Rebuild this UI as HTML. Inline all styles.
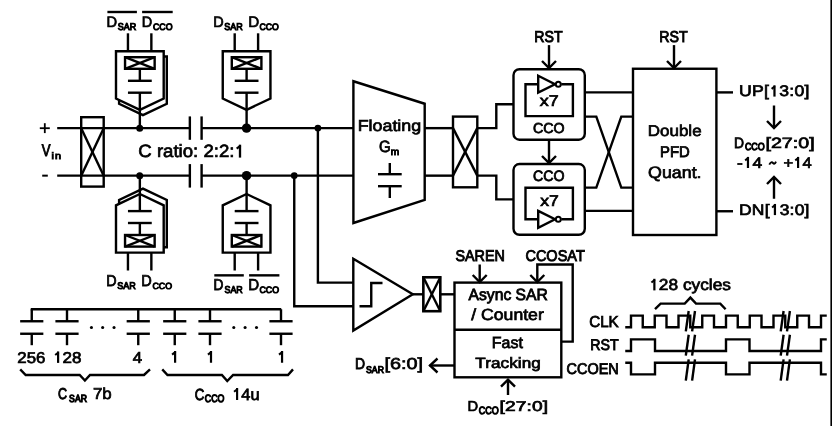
<!DOCTYPE html>
<html><head><meta charset="utf-8"><style>
html,body{margin:0;padding:0;background:#fff;}
svg{display:block;}
text{text-rendering:geometricPrecision;font-family:"Liberation Sans",sans-serif;fill:#000;stroke:#000;stroke-width:0.7px;vector-effect:non-scaling-stroke;}
svg{will-change:transform;}
</style></head><body>
<svg width="832" height="426" viewBox="0 0 832 426" stroke="#000" stroke-linecap="butt" stroke-linejoin="miter">
<rect x="0" y="0" width="832" height="426" fill="#fff" stroke="none"/>
<rect x="830.4" y="0" width="1.6" height="426" fill="#000" stroke="none"/>
<path d="M39.80,128.20 L49.80,128.20" stroke-width="1.8" fill="none"/>
<path d="M44.80,123.20 L44.80,133.10" stroke-width="1.8" fill="none"/>
<path d="M42.20,175.65 L47.80,175.65" stroke-width="2.0" fill="none"/>
<text transform="translate(41.84,156.19) scale(0.7886,1)" font-size="16.57" font-weight="normal" letter-spacing="0.000"  style="stroke-width:1.01px">V</text>
<text transform="translate(51.41,159.35) scale(1.1500,1)" font-size="9.52" font-weight="normal" letter-spacing="0.992"  style="stroke-width:0.9px">in</text>
<path d="M57.20,128.15 L189.85,128.15" stroke-width="2.4" fill="none"/>
<path d="M201.60,128.15 L353.40,128.15" stroke-width="2.4" fill="none"/>
<path d="M57.20,175.65 L189.85,175.65" stroke-width="2.4" fill="none"/>
<path d="M201.60,175.65 L353.40,175.65" stroke-width="2.4" fill="none"/>
<rect x="81.20" y="117.20" width="22.50" height="69.40" rx="0" stroke-width="2.4" fill="none"/>
<path d="M81.20,128.15 L103.70,175.65" stroke-width="2.4" fill="none"/>
<path d="M103.70,128.15 L81.20,175.65" stroke-width="2.4" fill="none"/>
<path d="M189.85,116.40 L189.85,139.80" stroke-width="2.4" fill="none"/>
<path d="M201.60,116.40 L201.60,139.80" stroke-width="2.4" fill="none"/>
<path d="M189.85,164.10 L189.85,187.60" stroke-width="2.4" fill="none"/>
<path d="M201.60,164.10 L201.60,187.60" stroke-width="2.4" fill="none"/>
<path d="M240.00,144.68 L240.00,157.60" stroke-width="2.3279431363838294" fill="none"/>
<path d="M240.54,145.71 L236.70,148.72" stroke-width="2.211111111111112" fill="none"/>
<text transform="translate(138.32,157.25) scale(1.0465,1)" font-size="17.78" font-weight="normal" letter-spacing="0.000" >C ratio: 2:2: </text>
<path d="M127.95,33.30 L127.95,51.20" stroke-width="2.4" fill="none"/>
<path d="M151.35,33.30 L151.35,51.20" stroke-width="2.4" fill="none"/>
<path d="M119.10,56.50 L166.80,56.50 L166.80,103.80 L142.95,115.10 L119.10,103.80 Z" stroke-width="2.4" fill="#fff"/>
<path d="M116.00,51.20 L163.70,51.20 L163.70,98.50 L139.85,109.80 L116.00,98.50 Z" stroke-width="2.4" fill="#fff"/>
<rect x="125.05" y="57.20" width="29.60" height="11.60" rx="0" stroke-width="2.4" fill="none"/>
<path d="M125.05,57.20 L154.65,68.80" stroke-width="2.4" fill="none"/>
<path d="M154.65,57.20 L125.05,68.80" stroke-width="2.4" fill="none"/>
<path d="M139.85,68.80 L139.85,80.80" stroke-width="2.4" fill="none"/>
<path d="M127.95,80.80 L151.75,80.80" stroke-width="2.4" fill="none"/>
<path d="M127.95,92.70 L151.75,92.70" stroke-width="2.4" fill="none"/>
<path d="M139.85,92.70 L139.85,128.15" stroke-width="2.4" fill="none"/>
<path d="M234.70,33.30 L234.70,51.20" stroke-width="2.4" fill="none"/>
<path d="M258.10,33.30 L258.10,51.20" stroke-width="2.4" fill="none"/>
<path d="M222.75,51.20 L270.45,51.20 L270.45,98.50 L246.60,109.80 L222.75,98.50 Z" stroke-width="2.4" fill="#fff"/>
<rect x="231.80" y="57.20" width="29.60" height="11.60" rx="0" stroke-width="2.4" fill="none"/>
<path d="M231.80,57.20 L261.40,68.80" stroke-width="2.4" fill="none"/>
<path d="M261.40,57.20 L231.80,68.80" stroke-width="2.4" fill="none"/>
<path d="M246.60,68.80 L246.60,80.80" stroke-width="2.4" fill="none"/>
<path d="M234.70,80.80 L258.50,80.80" stroke-width="2.4" fill="none"/>
<path d="M234.70,92.70 L258.50,92.70" stroke-width="2.4" fill="none"/>
<path d="M246.60,92.70 L246.60,128.15" stroke-width="2.4" fill="none"/>
<path d="M127.95,270.50 L127.95,252.60" stroke-width="2.4" fill="none"/>
<path d="M151.35,270.50 L151.35,252.60" stroke-width="2.4" fill="none"/>
<path d="M119.10,247.30 L166.80,247.30 L166.80,200.00 L142.95,188.70 L119.10,200.00 Z" stroke-width="2.4" fill="#fff"/>
<path d="M116.00,252.60 L163.70,252.60 L163.70,205.30 L139.85,194.00 L116.00,205.30 Z" stroke-width="2.4" fill="#fff"/>
<rect x="125.05" y="235.00" width="29.60" height="11.60" rx="0" stroke-width="2.4" fill="none"/>
<path d="M125.05,246.60 L154.65,235.00" stroke-width="2.4" fill="none"/>
<path d="M154.65,246.60 L125.05,235.00" stroke-width="2.4" fill="none"/>
<path d="M139.85,235.00 L139.85,223.00" stroke-width="2.4" fill="none"/>
<path d="M127.95,223.00 L151.75,223.00" stroke-width="2.4" fill="none"/>
<path d="M127.95,211.10 L151.75,211.10" stroke-width="2.4" fill="none"/>
<path d="M139.85,211.10 L139.85,175.65" stroke-width="2.4" fill="none"/>
<path d="M234.70,270.50 L234.70,252.60" stroke-width="2.4" fill="none"/>
<path d="M258.10,270.50 L258.10,252.60" stroke-width="2.4" fill="none"/>
<path d="M222.75,252.60 L270.45,252.60 L270.45,205.30 L246.60,194.00 L222.75,205.30 Z" stroke-width="2.4" fill="#fff"/>
<rect x="231.80" y="235.00" width="29.60" height="11.60" rx="0" stroke-width="2.4" fill="none"/>
<path d="M231.80,246.60 L261.40,235.00" stroke-width="2.4" fill="none"/>
<path d="M261.40,246.60 L231.80,235.00" stroke-width="2.4" fill="none"/>
<path d="M246.60,235.00 L246.60,223.00" stroke-width="2.4" fill="none"/>
<path d="M234.70,223.00 L258.50,223.00" stroke-width="2.4" fill="none"/>
<path d="M234.70,211.10 L258.50,211.10" stroke-width="2.4" fill="none"/>
<path d="M246.60,211.10 L246.60,175.65" stroke-width="2.4" fill="none"/>
<path d="M107.40,12.00 L136.90,12.00" stroke-width="2.4" fill="none"/>
<path d="M142.10,12.00 L172.70,12.00" stroke-width="2.4" fill="none"/>
<text transform="translate(106.56,26.54) scale(0.9701,1)" font-size="15.08" font-weight="normal" letter-spacing="0.000"  style="stroke-width:0.73px">D</text>
<text transform="translate(117.84,30.36) scale(0.9038,1)" font-size="9.92" font-weight="normal" letter-spacing="0.000"  style="stroke-width:1.08px">SAR</text>
<text transform="translate(141.78,26.53) scale(0.9587,1)" font-size="15.07" font-weight="normal" letter-spacing="0.000"  style="stroke-width:0.74px">D</text>
<text transform="translate(152.88,30.38) scale(0.9387,1)" font-size="9.41" font-weight="normal" letter-spacing="0.000"  style="stroke-width:1.04px">CCO</text>
<text transform="translate(213.18,26.53) scale(0.9587,1)" font-size="15.07" font-weight="normal" letter-spacing="0.000"  style="stroke-width:0.74px">D</text>
<text transform="translate(224.34,30.36) scale(0.9038,1)" font-size="9.92" font-weight="normal" letter-spacing="0.000"  style="stroke-width:1.08px">SAR</text>
<text transform="translate(248.20,26.55) scale(1.0041,1)" font-size="15.13" font-weight="normal" letter-spacing="0.000" >D</text>
<text transform="translate(259.49,30.38) scale(0.9296,1)" font-size="9.39" font-weight="normal" letter-spacing="0.000"  style="stroke-width:1.05px">CCO</text>
<text transform="translate(106.22,286.10) scale(0.9130,1)" font-size="15.69" font-weight="normal" letter-spacing="0.000"  style="stroke-width:0.81px">D</text>
<text transform="translate(117.22,289.28) scale(0.9334,1)" font-size="9.68" font-weight="normal" letter-spacing="0.000"  style="stroke-width:1.05px">SAR</text>
<text transform="translate(141.30,286.11) scale(0.9242,1)" font-size="15.72" font-weight="normal" letter-spacing="0.000"  style="stroke-width:0.79px">D</text>
<text transform="translate(152.46,289.30) scale(0.9795,1)" font-size="9.03" font-weight="normal" letter-spacing="0.000"  style="stroke-width:1.0px">CCO</text>
<path d="M214.30,275.35 L243.80,275.35" stroke-width="2.4" fill="none"/>
<path d="M249.10,275.35 L279.40,275.35" stroke-width="2.4" fill="none"/>
<text transform="translate(213.60,290.17) scale(0.8713,1)" font-size="15.77" font-weight="normal" letter-spacing="0.000"  style="stroke-width:0.86px">D</text>
<text transform="translate(224.54,293.46) scale(0.8936,1)" font-size="9.92" font-weight="normal" letter-spacing="0.000"  style="stroke-width:1.08px">SAR</text>
<text transform="translate(248.24,290.22) scale(0.9482,1)" font-size="15.91" font-weight="normal" letter-spacing="0.000"  style="stroke-width:0.76px">D</text>
<text transform="translate(259.47,293.49) scale(0.9522,1)" font-size="9.28" font-weight="normal" letter-spacing="0.000"  style="stroke-width:1.03px">CCO</text>
<circle cx="139.70" cy="128.15" r="3.50" fill="#000" stroke="none"/>
<circle cx="139.70" cy="175.65" r="3.50" fill="#000" stroke="none"/>
<circle cx="246.55" cy="128.15" r="4.70" fill="#000" stroke="none"/>
<circle cx="246.55" cy="175.65" r="4.70" fill="#000" stroke="none"/>
<circle cx="317.90" cy="128.15" r="3.30" fill="#000" stroke="none"/>
<circle cx="294.25" cy="175.65" r="3.30" fill="#000" stroke="none"/>
<path d="M353.40,81.25 L424.70,103.75 L424.70,200.00 L353.40,223.00 Z" stroke-width="2.4" fill="none"/>
<text transform="translate(357.68,131.35) scale(1.1251,1)" font-size="15.86" font-weight="normal" letter-spacing="0.000" >Floating</text>
<text transform="translate(378.95,152.19) scale(0.9188,1)" font-size="16.33" font-weight="normal" letter-spacing="0.000"  style="stroke-width:0.81px">G</text>
<text transform="translate(390.67,155.44) scale(1.0291,1)" font-size="9.84" font-weight="normal" letter-spacing="0.000"  style="stroke-width:0.91px">m</text>
<path d="M389.80,163.00 L389.80,174.20" stroke-width="2.4" fill="none"/>
<path d="M378.00,174.20 L401.70,174.20" stroke-width="2.4" fill="none"/>
<path d="M378.00,186.20 L401.70,186.20" stroke-width="2.4" fill="none"/>
<path d="M389.80,186.20 L389.80,198.00" stroke-width="2.4" fill="none"/>
<path d="M317.90,128.15 L317.90,282.60 L353.30,282.60" stroke-width="2.4" fill="none"/>
<path d="M294.25,175.65 L294.25,306.30 L353.30,306.30" stroke-width="2.4" fill="none"/>
<path d="M424.70,128.15 L453.00,128.15" stroke-width="2.4" fill="none"/>
<path d="M424.70,175.65 L453.00,175.65" stroke-width="2.4" fill="none"/>
<rect x="453.00" y="116.60" width="24.30" height="70.70" rx="0" stroke-width="2.4" fill="none"/>
<path d="M453.00,128.15 L477.30,175.65" stroke-width="2.4" fill="none"/>
<path d="M477.30,128.15 L453.00,175.65" stroke-width="2.4" fill="none"/>
<path d="M477.30,128.15 L496.30,128.15 L496.30,104.25 L513.50,104.25" stroke-width="2.4" fill="none"/>
<path d="M477.30,175.65 L496.30,175.65 L496.30,199.40 L513.50,199.40" stroke-width="2.4" fill="none"/>
<rect x="513.50" y="69.20" width="71.30" height="70.55" rx="6" stroke-width="2.4" fill="none"/>
<rect x="513.50" y="164.00" width="71.30" height="70.80" rx="6" stroke-width="2.4" fill="none"/>
<path d="M538.20,84.20 L525.50,84.20 L525.50,116.10 L572.90,116.10 L572.90,84.20 L561.30,84.20" stroke-width="2.4" fill="none"/>
<path d="M538.20,75.75 L555.00,84.20 L538.20,92.65 Z" stroke-width="2.4" fill="none"/>
<circle cx="558.3" cy="84.20" r="2.5" stroke-width="2.0" fill="#fff"/>
<path d="M538.20,219.30 L525.50,219.30 L525.50,187.80 L572.90,187.80 L572.90,219.30 L561.30,219.30" stroke-width="2.4" fill="none"/>
<path d="M538.20,210.85 L555.00,219.30 L538.20,227.75 Z" stroke-width="2.4" fill="none"/>
<circle cx="558.3" cy="219.30" r="2.5" stroke-width="2.0" fill="#fff"/>
<text transform="translate(539.63,106.25) scale(1.1500,1)" font-size="15.56" font-weight="normal" letter-spacing="0.205" >x7</text>
<text transform="translate(532.98,133.21) scale(0.9899,1)" font-size="14.37" font-weight="normal" letter-spacing="0.000"  style="stroke-width:0.78px">CCO</text>
<text transform="translate(533.02,180.67) scale(0.9470,1)" font-size="14.98" font-weight="normal" letter-spacing="0.000"  style="stroke-width:0.85px">CCO</text>
<text transform="translate(540.13,205.65) scale(1.1329,1)" font-size="15.56" font-weight="normal" letter-spacing="0.000" >x7</text>
<text transform="translate(534.20,41.53) scale(0.8934,1)" font-size="15.87" font-weight="normal" letter-spacing="0.000"  style="stroke-width:0.93px">RST</text>
<path d="M549.00,45.10 L549.00,68.00" stroke-width="2.4" fill="none"/>
<path d="M542.00,61.00 L549.00,68.00 L556.00,61.00" stroke-width="2.4" fill="none"/>
<path d="M549.00,139.75 L549.00,163.00" stroke-width="2.4" fill="none"/>
<path d="M542.00,156.00 L549.00,163.00 L556.00,156.00" stroke-width="2.4" fill="none"/>
<text transform="translate(659.18,41.55) scale(0.9039,1)" font-size="15.76" font-weight="normal" letter-spacing="0.000"  style="stroke-width:0.91px">RST</text>
<path d="M674.00,45.10 L674.00,68.00" stroke-width="2.4" fill="none"/>
<path d="M667.00,61.00 L674.00,68.00 L681.00,61.00" stroke-width="2.4" fill="none"/>
<path d="M584.80,92.40 L633.00,92.40" stroke-width="2.4" fill="none"/>
<path d="M584.80,210.90 L633.00,210.90" stroke-width="2.4" fill="none"/>
<path d="M584.80,116.60 L596.30,116.60 L621.30,187.60 L633.00,187.60" stroke-width="2.4" fill="none"/>
<path d="M584.80,187.60 L596.30,187.60 L621.30,116.60 L633.00,116.60" stroke-width="2.4" fill="none"/>
<rect x="633.00" y="68.75" width="83.40" height="166.25" rx="0" stroke-width="2.4" fill="none"/>
<text transform="translate(647.85,135.55) scale(1.0881,1)" font-size="15.59" font-weight="normal" letter-spacing="0.000" >Double</text>
<text transform="translate(659.98,156.59) scale(0.9653,1)" font-size="15.39" font-weight="normal" letter-spacing="0.000"  style="stroke-width:0.82px">PFD</text>
<text transform="translate(648.10,177.75) scale(1.0797,1)" font-size="16.49" font-weight="normal" letter-spacing="0.000" >Quant.</text>
<path d="M716.40,92.40 L733.00,92.40" stroke-width="2.4" fill="none"/>
<path d="M716.40,211.25 L733.00,211.25" stroke-width="2.4" fill="none"/>
<path d="M774.47,85.35 L774.47,96.60" stroke-width="2.243637992831541" fill="none"/>
<path d="M774.95,86.29 L771.61,88.88" stroke-width="2.0039426523297497" fill="none"/>
<text transform="translate(739.08,96.25) scale(1.1500,1)" font-size="15.34" font-weight="normal" letter-spacing="0.221" >UP[ 3:0]</text>
<path d="M774.93,203.95 L774.93,215.10" stroke-width="2.2292114695340493" fill="none"/>
<path d="M775.40,204.88 L772.09,207.45" stroke-width="1.991756272401433" fill="none"/>
<text transform="translate(739.01,214.75) scale(1.1500,1)" font-size="15.20" font-weight="normal" letter-spacing="0.189" >DN[ 3:0]</text>
<path d="M774.00,105.50 L774.00,128.00" stroke-width="2.4" fill="none"/>
<path d="M767.00,121.00 L774.00,128.00 L781.00,121.00" stroke-width="2.4" fill="none"/>
<path d="M774.00,198.75 L774.00,177.00" stroke-width="2.4" fill="none"/>
<path d="M767.00,184.00 L774.00,177.00 L781.00,184.00" stroke-width="2.4" fill="none"/>
<text transform="translate(734.05,147.50) scale(0.9240,1)" font-size="15.00" font-weight="normal" letter-spacing="0.000"  style="stroke-width:0.79px">D</text>
<text transform="translate(744.91,150.25) scale(0.8792,1)" font-size="10.16" font-weight="normal" letter-spacing="0.000"  style="stroke-width:1.11px">CCO</text>
<text transform="translate(765.42,147.55) scale(1.3186,1)" font-size="14.91" font-weight="normal" letter-spacing="0.000" >[27:0]</text>
<path d="M747.97,156.90 L747.97,168.00" stroke-width="2.222181818181819" fill="none"/>
<path d="M748.44,157.82 L745.14,160.38" stroke-width="1.9858181818181826" fill="none"/>
<text transform="translate(736.97,167.65) scale(1.1500,1)" font-size="15.13" font-weight="normal" letter-spacing="0.054" >- 4</text>
<path d="M798.10,156.90 L798.10,168.00" stroke-width="2.1497681607418833" fill="none"/>
<path d="M798.57,157.82 L795.27,160.38" stroke-width="1.9858181818181826" fill="none"/>
<text transform="translate(783.52,167.65) scale(1.0953,1)" font-size="15.13" font-weight="normal" letter-spacing="0.000" >+ 4</text>
<path d="M769.3,164.6 C770.6,162.0 772.0,161.9 773.0,163.0 C774.0,164.1 775.0,164.0 776.0,161.6" stroke-width="1.9" fill="none"/>
<path d="M353.30,258.75 L412.80,294.30 L353.30,330.50 Z" stroke-width="2.4" fill="none"/>
<path d="M359.50,306.25 L371.25,306.25 L371.25,283.00 L382.50,283.00" stroke-width="2.4" fill="none"/>
<path d="M412.80,294.30 L423.35,294.30" stroke-width="2.4" fill="none"/>
<rect x="423.35" y="277.30" width="16.95" height="33.90" rx="0" stroke-width="2.6" fill="none"/>
<path d="M423.35,277.30 L440.30,311.20" stroke-width="2.4" fill="none"/>
<path d="M440.30,277.30 L423.35,311.20" stroke-width="2.4" fill="none"/>
<path d="M440.30,294.30 L454.50,294.30" stroke-width="2.4" fill="none"/>
<rect x="454.50" y="282.60" width="106.80" height="94.70" rx="0" stroke-width="2.4" fill="none"/>
<path d="M454.50,329.80 L561.30,329.80" stroke-width="2.4" fill="none"/>
<text transform="translate(455.41,260.85) scale(0.9188,1)" font-size="15.61" font-weight="normal" letter-spacing="0.000"  style="stroke-width:0.91px">SAREN</text>
<text transform="translate(525.42,260.65) scale(0.9280,1)" font-size="15.63" font-weight="normal" letter-spacing="0.000"  style="stroke-width:0.9px">CCOSAT</text>
<path d="M479.70,264.50 L479.70,282.00" stroke-width="2.4" fill="none"/>
<path d="M472.70,275.00 L479.70,282.00 L486.70,275.00" stroke-width="2.4" fill="none"/>
<path d="M561.30,341.60 L572.70,341.60 L572.70,264.50 L537.30,264.50 L537.30,282.00" stroke-width="2.4" fill="none"/>
<path d="M530.30,275.00 L537.30,282.00 L544.30,275.00" stroke-width="2.4" fill="none"/>
<text transform="translate(468.58,299.98) scale(0.9665,1)" font-size="16.23" font-weight="normal" letter-spacing="0.000"  style="stroke-width:0.84px">Async SAR</text>
<text transform="translate(471.25,320.45) scale(1.0989,1)" font-size="16.06" font-weight="normal" letter-spacing="0.000" >/ Counter</text>
<text transform="translate(491.87,347.51) scale(0.9956,1)" font-size="16.04" font-weight="normal" letter-spacing="0.000"  style="stroke-width:0.77px">Fast</text>
<text transform="translate(475.36,368.15) scale(1.1500,1)" font-size="14.90" font-weight="normal" letter-spacing="0.050" >Tracking</text>
<path d="M454.50,365.50 L429.50,365.50" stroke-width="2.4" fill="none"/>
<path d="M437.50,358.50 L430.00,365.50 L437.50,372.50" stroke-width="2.4" fill="none"/>
<text transform="translate(355.06,369.38) scale(0.8951,1)" font-size="15.59" font-weight="normal" letter-spacing="0.000"  style="stroke-width:0.83px">D</text>
<text transform="translate(366.05,372.65) scale(0.8918,1)" font-size="9.76" font-weight="normal" letter-spacing="0.000"  style="stroke-width:1.09px">SAR</text>
<text transform="translate(384.51,369.45) scale(1.2480,1)" font-size="15.91" font-weight="normal" letter-spacing="0.000" >[6:0]</text>
<path d="M508.00,395.00 L508.00,379.70" stroke-width="2.4" fill="none"/>
<path d="M501.00,386.70 L508.00,379.70 L515.00,386.70" stroke-width="2.4" fill="none"/>
<text transform="translate(467.54,410.55) scale(1.0197,1)" font-size="14.40" font-weight="normal" letter-spacing="0.000" >D</text>
<text transform="translate(478.72,413.53) scale(0.8545,1)" font-size="10.55" font-weight="normal" letter-spacing="0.000"  style="stroke-width:1.14px">CCO</text>
<text transform="translate(499.46,410.55) scale(1.3500,1)" font-size="14.19" font-weight="normal" letter-spacing="0.101" >[27:0]</text>
<path d="M30.75,309.25 L281.25,309.25" stroke-width="2.4" fill="none"/>
<path d="M31.75,309.25 L31.75,321.25" stroke-width="2.4" fill="none"/>
<path d="M20.15,321.25 L43.35,321.25" stroke-width="2.4" fill="none"/>
<path d="M20.15,333.75 L43.35,333.75" stroke-width="2.4" fill="none"/>
<path d="M31.75,333.75 L31.75,345.20" stroke-width="2.4" fill="none"/>
<path d="M67.00,309.25 L67.00,321.25" stroke-width="2.4" fill="none"/>
<path d="M55.40,321.25 L78.60,321.25" stroke-width="2.4" fill="none"/>
<path d="M55.40,333.75 L78.60,333.75" stroke-width="2.4" fill="none"/>
<path d="M67.00,333.75 L67.00,345.20" stroke-width="2.4" fill="none"/>
<path d="M138.25,309.25 L138.25,321.25" stroke-width="2.4" fill="none"/>
<path d="M126.65,321.25 L149.85,321.25" stroke-width="2.4" fill="none"/>
<path d="M126.65,333.75 L149.85,333.75" stroke-width="2.4" fill="none"/>
<path d="M138.25,333.75 L138.25,345.20" stroke-width="2.4" fill="none"/>
<path d="M174.75,309.25 L174.75,321.25" stroke-width="2.4" fill="none"/>
<path d="M163.15,321.25 L186.35,321.25" stroke-width="2.4" fill="none"/>
<path d="M163.15,333.75 L186.35,333.75" stroke-width="2.4" fill="none"/>
<path d="M174.75,333.75 L174.75,345.20" stroke-width="2.4" fill="none"/>
<path d="M210.00,309.25 L210.00,321.25" stroke-width="2.4" fill="none"/>
<path d="M198.40,321.25 L221.60,321.25" stroke-width="2.4" fill="none"/>
<path d="M198.40,333.75 L221.60,333.75" stroke-width="2.4" fill="none"/>
<path d="M210.00,333.75 L210.00,345.20" stroke-width="2.4" fill="none"/>
<path d="M281.00,309.25 L281.00,321.25" stroke-width="2.4" fill="none"/>
<path d="M269.40,321.25 L292.60,321.25" stroke-width="2.4" fill="none"/>
<path d="M269.40,333.75 L292.60,333.75" stroke-width="2.4" fill="none"/>
<path d="M281.00,333.75 L281.00,345.20" stroke-width="2.4" fill="none"/>
<text transform="translate(17.31,362.55) scale(1.0767,1)" font-size="15.63" font-weight="normal" letter-spacing="0.000" >256</text>
<path d="M58.11,351.46 L58.11,362.90" stroke-width="2.1903225806451614" fill="none"/>
<path d="M58.60,352.40 L55.20,355.04" stroke-width="2.0283154121863705" fill="none"/>
<text transform="translate(53.07,362.55) scale(1.0899,1)" font-size="15.63" font-weight="normal" letter-spacing="0.000" > 28</text>
<text transform="translate(132.77,362.55) scale(1.0616,1)" font-size="15.85" font-weight="normal" letter-spacing="0.000" >4</text>
<path d="M175.10,351.00 L175.10,362.75" stroke-width="2.2" fill="none"/>
<path d="M175.60,351.70 L172.10,354.60" stroke-width="2.1" fill="none"/>
<path d="M211.00,351.00 L211.00,362.75" stroke-width="2.2" fill="none"/>
<path d="M211.50,351.70 L208.00,354.60" stroke-width="2.1" fill="none"/>
<path d="M282.05,351.00 L282.05,362.75" stroke-width="2.2" fill="none"/>
<path d="M282.55,351.70 L279.05,354.60" stroke-width="2.1" fill="none"/>
<circle cx="91.45" cy="327.45" r="1.55" fill="#000" stroke="none"/>
<circle cx="102.65" cy="327.45" r="1.55" fill="#000" stroke="none"/>
<circle cx="114.05" cy="327.45" r="1.55" fill="#000" stroke="none"/>
<circle cx="233.80" cy="327.45" r="1.55" fill="#000" stroke="none"/>
<circle cx="245.10" cy="327.45" r="1.55" fill="#000" stroke="none"/>
<circle cx="256.50" cy="327.45" r="1.55" fill="#000" stroke="none"/>
<path d="M20.20,369.40 L25.70,375.00 L79.70,375.00 L84.90,380.50 L90.00,375.00 L144.00,375.00 L150.00,369.40" stroke-width="2.4" fill="none"/>
<path d="M162.25,369.40 L167.50,375.00 L221.90,375.00 L227.25,381.00 L233.10,375.00 L288.00,375.00 L293.00,369.40" stroke-width="2.4" fill="none"/>
<text transform="translate(57.96,399.31) scale(0.8001,1)" font-size="15.67" font-weight="normal" letter-spacing="0.000"  style="stroke-width:0.97px">C</text>
<text transform="translate(69.08,402.23) scale(0.8397,1)" font-size="10.39" font-weight="normal" letter-spacing="0.000"  style="stroke-width:1.15px">SAR</text>
<text transform="translate(92.96,399.45) scale(1.0750,1)" font-size="15.72" font-weight="normal" letter-spacing="0.000" >7b</text>
<text transform="translate(194.71,399.72) scale(0.8185,1)" font-size="16.13" font-weight="normal" letter-spacing="0.000"  style="stroke-width:0.95px">C</text>
<text transform="translate(204.85,402.31) scale(0.8215,1)" font-size="10.78" font-weight="normal" letter-spacing="0.000"  style="stroke-width:1.18px">CCO</text>
<path d="M237.10,388.00 L237.10,400.00" stroke-width="2.1349427168576094" fill="none"/>
<path d="M237.61,388.98 L234.05,391.74" stroke-width="2.090909090909091" fill="none"/>
<text transform="translate(232.25,399.62) scale(1.0022,1)" font-size="16.36" font-weight="normal" letter-spacing="0.000"  style="stroke-width:0.75px"> 4u</text>
<path d="M654.37,278.80 L654.37,290.40" stroke-width="2.2130010834236176" fill="none"/>
<path d="M654.86,279.75 L651.41,282.44" stroke-width="2.0476363636363537" fill="none"/>
<text transform="translate(649.25,290.05) scale(1.0906,1)" font-size="15.85" font-weight="normal" letter-spacing="0.000" > 28 cycles</text>
<path d="M655.00,309.20 L660.60,303.60 L684.75,303.60 L690.40,297.60 L696.00,303.60 L720.30,303.60 L725.60,309.20" stroke-width="2.4" fill="none"/>
<text transform="translate(589.26,326.88) scale(0.9529,1)" font-size="15.87" font-weight="normal" letter-spacing="0.000"  style="stroke-width:0.83px">CLK</text>
<text transform="translate(590.37,349.96) scale(0.9243,1)" font-size="15.37" font-weight="normal" letter-spacing="0.000"  style="stroke-width:0.88px">RST</text>
<text transform="translate(566.52,374.06) scale(0.9328,1)" font-size="15.50" font-weight="normal" letter-spacing="0.000"  style="stroke-width:0.89px">CCOEN</text>
<path d="M625.25,327.25 L631.00,327.25 L631.00,315.60 L642.75,315.60 L642.75,327.25 L654.75,327.25 L654.75,315.60 L666.50,315.60 L666.50,327.25 L678.50,327.25 L678.50,315.60 L690.25,315.60 L690.25,327.25 L702.25,327.25 L702.25,315.60 L714.00,315.60 L714.00,327.25 L726.00,327.25 L726.00,315.60 L737.75,315.60 L737.75,327.25 L749.75,327.25 L749.75,315.60 L761.50,315.60 L761.50,327.25 L773.50,327.25 L773.50,315.60 L785.25,315.60 L785.25,327.25 L797.25,327.25 L797.25,315.60 L809.00,315.60 L809.00,327.25 L821.00,327.25 L821.00,315.60 L826.75,315.60" stroke-width="2.4" fill="none"/>
<path d="M625.25,351.00 L631.00,351.00 L631.00,339.40 L655.00,339.40 L655.00,351.00 L726.00,351.00 L726.00,339.40 L749.50,339.40 L749.50,351.00 L821.00,351.00 L821.00,339.40 L826.75,339.40" stroke-width="2.4" fill="none"/>
<path d="M625.25,362.75 L631.00,362.75 L631.00,374.40 L655.00,374.40 L655.00,362.75 L726.00,362.75 L726.00,374.40 L749.50,374.40 L749.50,362.75 L821.00,362.75 L821.00,374.40 L826.75,374.40" stroke-width="2.4" fill="none"/>
<path d="M688.70,311.00 L685.80,331.30" stroke-width="2.4" fill="none"/>
<path d="M695.00,311.00 L692.10,331.30" stroke-width="2.4" fill="none"/>
<path d="M688.70,334.75 L685.80,355.60" stroke-width="2.4" fill="none"/>
<path d="M695.00,334.75 L692.10,355.60" stroke-width="2.4" fill="none"/>
<path d="M688.70,359.40 L685.80,380.60" stroke-width="2.4" fill="none"/>
<path d="M695.00,359.40 L692.10,380.60" stroke-width="2.4" fill="none"/>
<path d="M783.60,311.00 L780.70,331.30" stroke-width="2.4" fill="none"/>
<path d="M789.90,311.00 L787.00,331.30" stroke-width="2.4" fill="none"/>
<path d="M783.60,334.75 L780.70,355.60" stroke-width="2.4" fill="none"/>
<path d="M789.90,334.75 L787.00,355.60" stroke-width="2.4" fill="none"/>
<path d="M783.60,359.40 L780.70,380.60" stroke-width="2.4" fill="none"/>
<path d="M789.90,359.40 L787.00,380.60" stroke-width="2.4" fill="none"/>
</svg>
</body></html>
